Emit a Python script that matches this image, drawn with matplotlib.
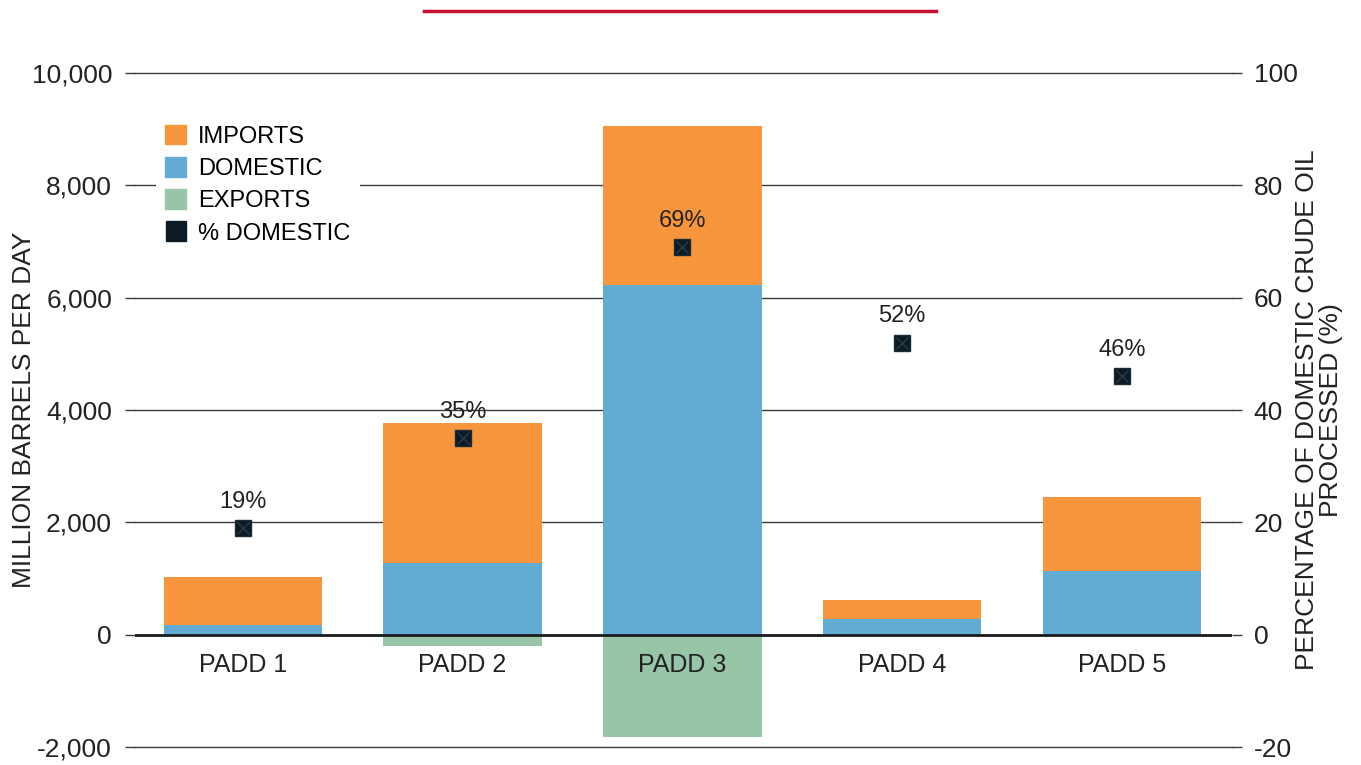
import matplotlib.pyplot as plt
from matplotlib.lines import Line2D
from matplotlib.patches import Patch

plt.rcParams['font.family'] = ['Liberation Sans', 'DejaVu Sans']
plt.rcParams['axes.unicode_minus'] = False

# Refinery crude inputs by PADD (thousand barrels per day)
padds = ['PADD 1', 'PADD 2', 'PADD 3', 'PADD 4', 'PADD 5']
domestic = [180, 1280, 6230, 285, 1140]
imports = [850, 2490, 2830, 340, 1320]
exports = [0, -210, -1830, 0, 0]
pct_domestic = [19, 35, 69, 52, 46]

c_imp = '#f7963c'
c_dom = '#62acd4'
c_exp = '#98c5a8'
c_pct = '#0b1a24'
grid_c = '#3a3a3a'
txt_c = '#222222'

fig = plt.figure(figsize=(13.61, 7.65), dpi=100)
ax = fig.add_axes([0.0992, 0.0235, 0.806, 0.8811])
x = list(range(len(padds)))
w = 0.72

ax.bar(x, domestic, w, color=c_dom, zorder=2)
ax.bar(x, imports, w, bottom=domestic, color=c_imp, zorder=2)
ax.bar(x, exports, w, color=c_exp, zorder=2)

ax.set_xlim(-0.49, 4.5)
ax.set_ylim(-2000, 10000)
ax.set_yticks(range(-2000, 10001, 2000))
ax.yaxis.set_major_formatter(plt.FuncFormatter(lambda v, p: f'{int(v):,}'))
for yv in range(-2000, 10001, 2000):
    if yv != 0:
        ax.axhline(yv, color=grid_c, lw=1, zorder=0, clip_on=False)
ax.axhline(0, color='#1a1a1a', lw=2, zorder=3)
for s in ax.spines.values():
    s.set_visible(False)
ax.set_xticks([])
ax.tick_params(axis='y', labelsize=19, length=7.5, width=1, color=grid_c,
               labelcolor=txt_c, pad=9)
ax.set_ylabel('MILLION BARRELS PER DAY', fontsize=19, color=txt_c)
ax.yaxis.set_label_coords(-0.090, 0.5)

for i, name in enumerate(padds):
    ax.annotate(name, (i, 0), xytext=(0, -13), textcoords='offset points',
                ha='center', va='top', fontsize=18, color=txt_c, zorder=4)

ax2 = ax.twinx()
ax2.set_ylim(-20, 100)
ax2.set_yticks(range(-20, 101, 20))
for s in ax2.spines.values():
    s.set_visible(False)
ax2.tick_params(axis='y', labelsize=19, length=7.5, width=1, color=grid_c,
                labelcolor=txt_c, pad=8)
ax2.set_ylabel('PERCENTAGE OF DOMESTIC CRUDE OIL\nPROCESSED (%)', fontsize=19,
               color=txt_c, linespacing=1.05)
ax2.yaxis.set_label_coords(1.057, 0.5)
ax2.plot(x, pct_domestic, ls='none', marker='s', ms=11, mfc=c_pct,
         mec='#1c2c36', mew=1, zorder=5)
ax2.plot(x, pct_domestic, ls='none', marker='x', ms=8, mec='#2a3c48',
         mew=1, zorder=6)
for i, p in enumerate(pct_domestic):
    ax2.annotate(f'{p}%', (i, p), xytext=(0, 11), textcoords='offset points',
                 ha='center', va='bottom', fontsize=17, color=txt_c)

handles = [Patch(color=c_imp), Patch(color=c_dom), Patch(color=c_exp),
           Line2D([], [], ls='none', marker='s', ms=14, mfc=c_pct, mec=c_pct)]
leg = ax2.legend(handles, ['IMPORTS', 'DOMESTIC', 'EXPORTS', '% DOMESTIC'],
                 loc='upper left', bbox_to_anchor=(0.008, 0.955), fontsize=17,
                 frameon=True, framealpha=1, edgecolor='white', handlelength=0.9,
                 handleheight=0.9, handletextpad=0.5, labelspacing=0.4,
                 borderpad=0.4)
leg.get_frame().set_linewidth(0)

# red rule across the top
fig.add_artist(Line2D([424 / 1361, 936 / 1361], [1 - 11 / 765, 1 - 11 / 765],
                      color='#c8102e', lw=2.5))

fig.savefig('out.png', dpi=100)
